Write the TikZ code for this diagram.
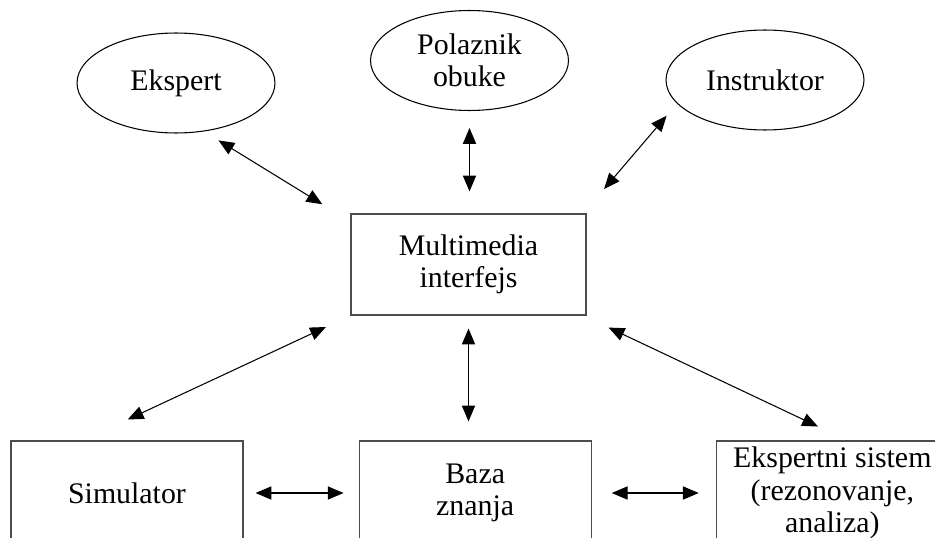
\documentclass[tikz,border=0pt]{standalone}
\usepackage{fontspec}
\setmainfont{Liberation Serif}
\usetikzlibrary{shapes.geometric, positioning, arrows.meta}

\begin{document}
\begin{tikzpicture}[x=0.02cm,y=-0.02cm,node distance=2.3cm,
    every node/.style={font=\fontsize{17}{18.5}\selectfont,align=center},
    actor/.style={ellipse,draw,line width=0.6pt,minimum width=3.96cm,minimum height=2cm,inner sep=0pt},
    block/.style={rectangle,draw=black!70,line width=0.7pt,minimum width=4.64cm,minimum height=2.08cm,inner sep=0pt},
    dbl/.style={{Triangle[length=9pt,width=7.5pt]}-{Triangle[length=9pt,width=7.5pt]},line width=0.6pt}]
    \useasboundingbox (0,0) rectangle (935,537);
    \clip (0,0) rectangle (935,537);
    % korisnici
    \node[actor] (ekspert) at (176,83) {Ekspert};
    \node[actor] (polaznik) at (469.5,60.5) {Polaznik\\obuke};
    \node[actor] (instruktor) at (765,80) {Instruktor};
    % interfejs
    \node[block,minimum width=4.7cm,minimum height=2.02cm] (mm) at (468.5,264.5) {Multimedia\\interfejs};
    % moduli
    \node[block] (sim) at (127,493) {Simulator};
    \node[block] (baza) [right=of sim] {Baza\\znanja};
    \node[block] (eks) [right=2.48cm of baza] {Ekspertni sistem\\(rezonovanje,\\analiza)};
    \path[dbl] (ekspert.-60) edge[shorten <=0.34cm,shorten >=0.66cm] (mm.160);
    \path[dbl] (polaznik.south) edge[shorten <=0.34cm,shorten >=0.44cm] (polaznik.south |- mm.north);
    \path[dbl] (instruktor.195) edge[shorten <=0.32cm,shorten >=0.64cm] (mm.24.4);
    \path[dbl] (mm.south west) edge[shorten <=0.54cm,shorten >=0.99cm] (sim.130);
    \path[dbl] (mm.south) edge[shorten <=0.26cm,shorten >=0.38cm] (mm.south |- baza.north);
    \path[dbl] (mm.-24.4) edge[shorten <=0.56cm,shorten >=0.65cm] (eks.74.5);
    \path[dbl] (sim.east) edge[shorten <=0.24cm,shorten >=0.30cm] (baza.west);
    \path[dbl] (baza.east) edge[shorten <=0.40cm,shorten >=0.34cm] (eks.west);
\end{tikzpicture}
\end{document}
